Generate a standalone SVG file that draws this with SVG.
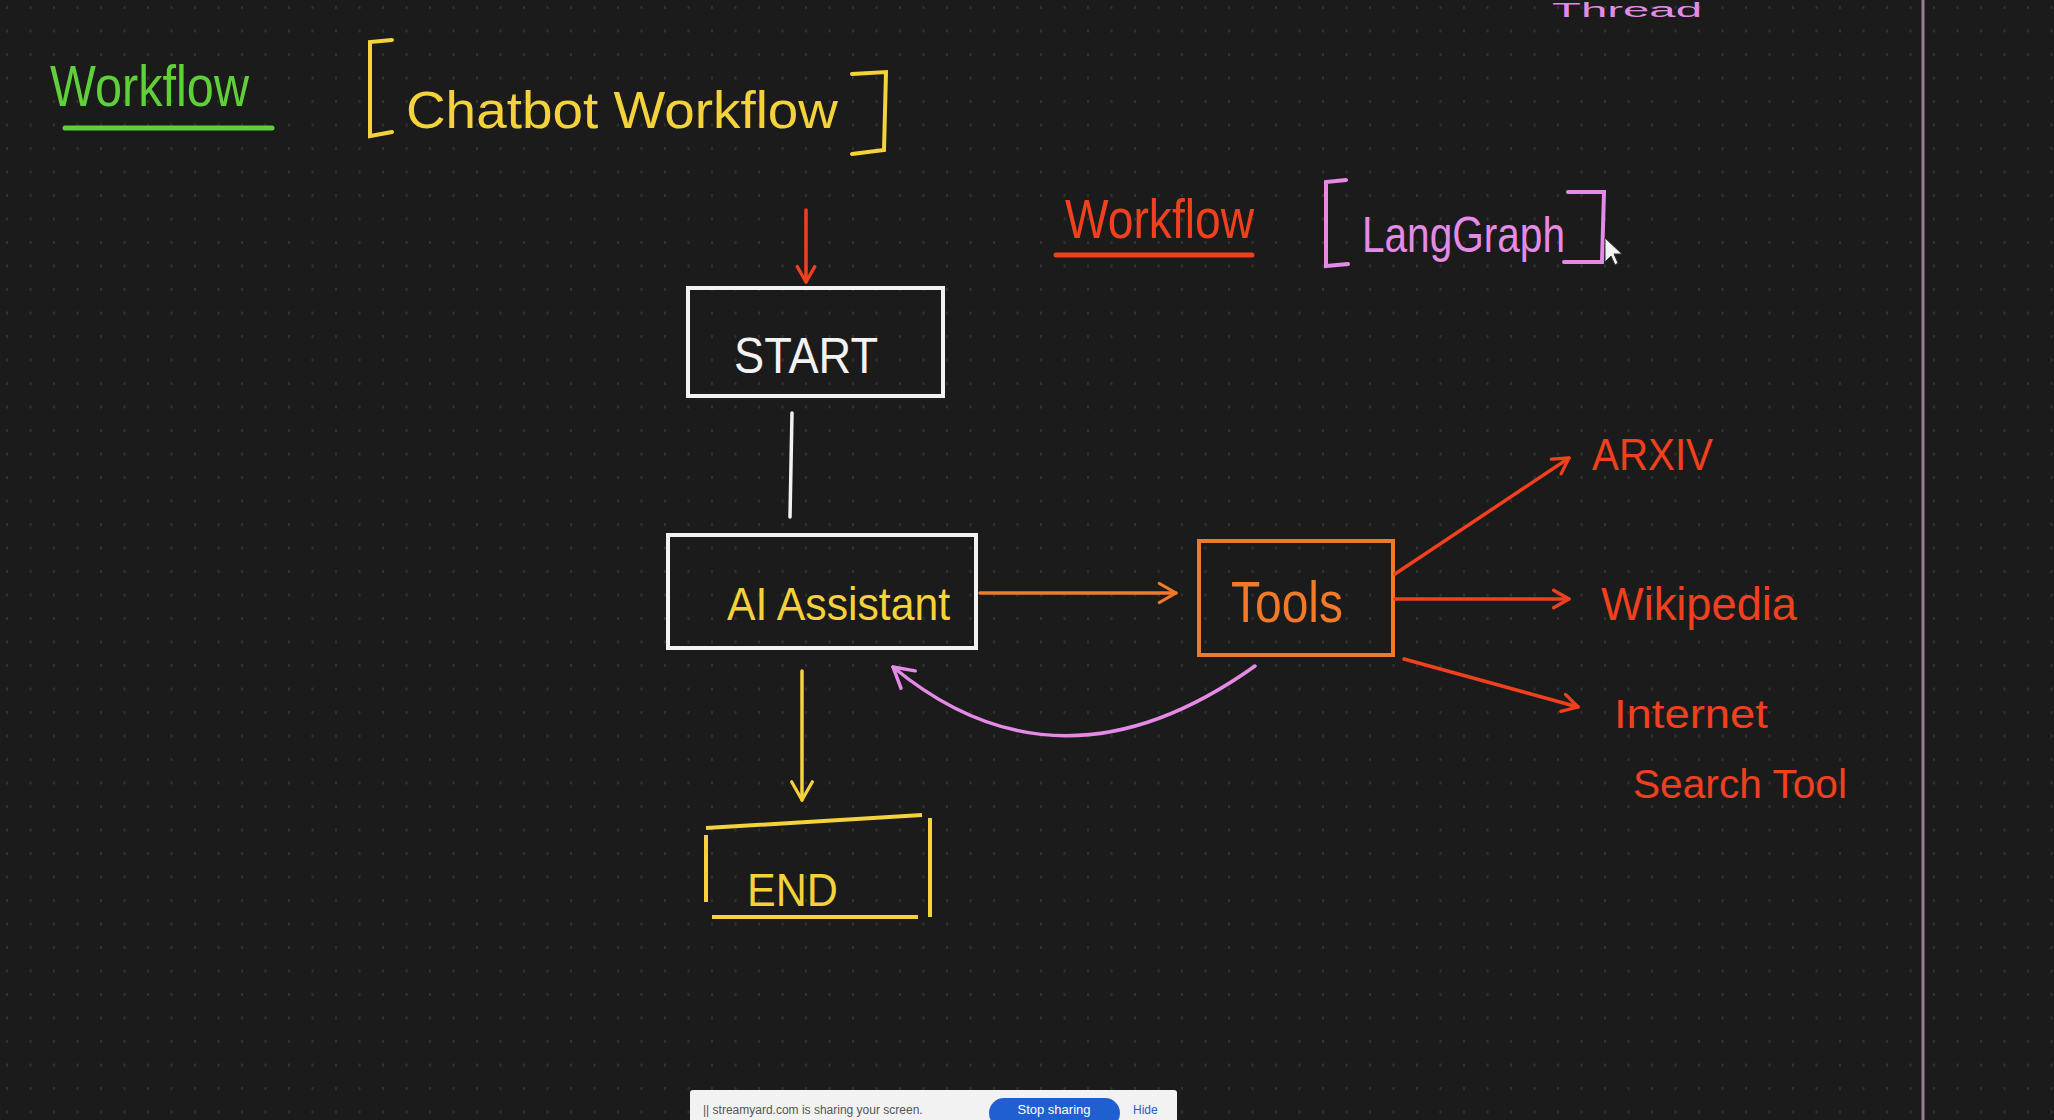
<svg xmlns="http://www.w3.org/2000/svg" width="2054" height="1120" viewBox="0 0 2054 1120">
  <defs>
    <pattern id="dots" x="6" y="6" width="23.5" height="23.5" patternUnits="userSpaceOnUse">
      <rect x="0" y="0" width="2" height="3" fill="#313131"/>
    </pattern>
    <marker id="ahRed" viewBox="0 0 20 20" refX="18" refY="10" markerWidth="22" markerHeight="22" markerUnits="userSpaceOnUse" orient="auto">
      <path d="M4 2 L18 10 L4 18" fill="none" stroke="#f0401e" stroke-width="3" stroke-linecap="round" stroke-linejoin="round"/>
    </marker>
    <marker id="ahYellow" viewBox="0 0 20 20" refX="18" refY="10" markerWidth="26" markerHeight="26" markerUnits="userSpaceOnUse" orient="auto">
      <path d="M4 2 L18 10 L4 18" fill="none" stroke="#f3d23c" stroke-width="2.5" stroke-linecap="round" stroke-linejoin="round"/>
    </marker>
    <marker id="ahOrange" viewBox="0 0 20 20" refX="18" refY="10" markerWidth="24" markerHeight="24" markerUnits="userSpaceOnUse" orient="auto">
      <path d="M4 2 L18 10 L4 18" fill="none" stroke="#f07a2a" stroke-width="2.5" stroke-linecap="round" stroke-linejoin="round"/>
    </marker>
    <marker id="ahPink" viewBox="0 0 20 20" refX="18" refY="10" markerWidth="28" markerHeight="28" markerUnits="userSpaceOnUse" orient="auto">
      <path d="M4 2 L18 10 L4 18" fill="none" stroke="#e68ae8" stroke-width="2.5" stroke-linecap="round" stroke-linejoin="round"/>
    </marker>
  </defs>
  <style>
    text { font-family: "Liberation Sans", Arial, sans-serif; }
    .box { fill: none; stroke-width: 4; stroke-linejoin: miter; }
    .conn { fill: none; stroke-width: 3.5; stroke-linecap: round; }
    .green { fill: #5fd03a; }
    .yellow { fill: #f3d23c; }
    .red { fill: #f0401e; }
    .orange { fill: #f07a2a; }
    .pink { fill: #e68ae8; }
    .white { fill: #f2f2f2; }
  </style>

  <rect x="0" y="0" width="2054" height="1120" fill="#1b1b1b"/>
  <rect x="0" y="0" width="2054" height="1120" fill="url(#dots)"/>

  <!-- right edge line -->
  <line x1="1923" y1="0" x2="1923" y2="1120" stroke="#9a7f8f" stroke-width="3"/>

  <!-- partially visible text at top -->
  <text x="1552" y="17" class="pink" font-size="20" textLength="150" lengthAdjust="spacingAndGlyphs">Thread</text>

  <!-- title labels -->
  <g id="title-left">
    <text x="50" y="106" class="green" font-size="58" textLength="199" lengthAdjust="spacingAndGlyphs">Workflow</text>
    <line x1="65" y1="128" x2="272" y2="128" stroke="#5fd03a" stroke-width="5" stroke-linecap="round"/>
    <path d="M392 40 L370 42 L370 136 L392 132" fill="none" stroke="#f3d23c" stroke-width="4" stroke-linecap="round"/>
    <text x="406" y="128" class="yellow" font-size="52" textLength="432" lengthAdjust="spacingAndGlyphs">Chatbot  Workflow</text>
    <path d="M852 74 L886 72 L884 150 L852 154" fill="none" stroke="#f3d23c" stroke-width="4" stroke-linecap="round"/>
  </g>

  <g id="title-right">
    <text x="1065" y="238" class="red" font-size="56" textLength="189" lengthAdjust="spacingAndGlyphs">Workflow</text>
    <line x1="1056" y1="255" x2="1252" y2="255" stroke="#f0401e" stroke-width="5" stroke-linecap="round"/>
    <path d="M1346 180 L1326 182 L1326 266 L1348 264" fill="none" stroke="#e68ae8" stroke-width="4" stroke-linecap="round"/>
    <text x="1362" y="252" class="pink" font-size="50" textLength="203" lengthAdjust="spacingAndGlyphs">LangGraph</text>
    <path d="M1568 192 L1604 192 L1602 262 L1564 262" fill="none" stroke="#e68ae8" stroke-width="4" stroke-linecap="round"/>
  </g>

  <!-- mouse cursor -->
  <path d="M1605 238 L1605 262 L1611 256 L1615 265 L1618 263 L1614 254 L1622 254 Z" fill="#f2f2f2" stroke="#333" stroke-width="1"/>

  <!-- nodes -->
  <g id="node-start">
    <rect x="688" y="288" width="255" height="108" class="box" stroke="#f2f2f2"/>
    <text x="734" y="373" class="white" font-size="50" textLength="144" lengthAdjust="spacingAndGlyphs">START</text>
  </g>

  <g id="node-ai-assistant">
    <rect x="668" y="535" width="308" height="113" class="box" stroke="#f2f2f2"/>
    <text x="727" y="620" class="yellow" font-size="46" textLength="223" lengthAdjust="spacingAndGlyphs">AI Assistant</text>
  </g>

  <g id="node-end">
    <path d="M706 828 L922 815 M930 818 L930 917 M918 917 L712 917 M706 835 L706 902" class="box" stroke="#f3d23c"/>
    <text x="747" y="906" class="yellow" font-size="46" textLength="91" lengthAdjust="spacingAndGlyphs">END</text>
  </g>

  <g id="node-tools">
    <rect x="1199" y="541" width="194" height="114" class="box" stroke="#f07a2a"/>
    <text x="1231" y="622" class="orange" font-size="58" textLength="112" lengthAdjust="spacingAndGlyphs">Tools</text>
  </g>

  <g id="node-arxiv">
    <text x="1592" y="470" class="red" font-size="44" textLength="121" lengthAdjust="spacingAndGlyphs">ARXIV</text>
  </g>

  <g id="node-wikipedia">
    <text x="1601" y="620" class="red" font-size="46" textLength="196" lengthAdjust="spacingAndGlyphs">Wikipedia</text>
  </g>

  <g id="node-internet">
    <text x="1614" y="728" class="red" font-size="40" textLength="154" lengthAdjust="spacingAndGlyphs">Internet</text>
    <text x="1633" y="798" class="red" font-size="40" textLength="214" lengthAdjust="spacingAndGlyphs">Search Tool</text>
  </g>

  <!-- connectors -->
  <g id="connectors">
    <line x1="806" y1="210" x2="806" y2="282" class="conn" stroke="#f0401e" marker-end="url(#ahRed)"/>
    <line x1="792" y1="413" x2="790" y2="517" class="conn" stroke="#f2f2f2"/>
    <line x1="802" y1="671" x2="802" y2="800" class="conn" stroke="#f3d23c" marker-end="url(#ahYellow)"/>
    <line x1="980" y1="593" x2="1176" y2="593" class="conn" stroke="#f07a2a" marker-end="url(#ahOrange)"/>
    <path d="M1255 666 Q1060 805 893 667" class="conn" stroke="#e68ae8" marker-end="url(#ahPink)"/>
    <line x1="1395" y1="574" x2="1569" y2="458" class="conn" stroke="#f0401e" marker-end="url(#ahRed)"/>
    <line x1="1395" y1="599" x2="1569" y2="599" class="conn" stroke="#f0401e" marker-end="url(#ahRed)"/>
    <line x1="1404" y1="659" x2="1578" y2="707" class="conn" stroke="#f0401e" marker-end="url(#ahRed)"/>
  </g>

  <!-- screen-share bar at bottom -->
  <rect x="690" y="1090" width="487" height="40" rx="3" fill="#f2f2f2"/>
  <text x="703" y="1114" font-size="12" fill="#555">||  streamyard.com is sharing your screen.</text>
  <rect x="989" y="1098" width="131" height="30" rx="15" fill="#1f5fcf"/>
  <text x="1054" y="1114" font-size="13" fill="#ffffff" text-anchor="middle">Stop sharing</text>
  <text x="1133" y="1114" font-size="12" fill="#1f5fcf">Hide</text>
</svg>
